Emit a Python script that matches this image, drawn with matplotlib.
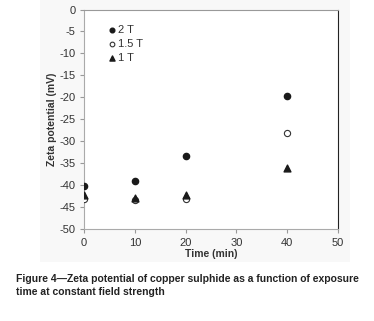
import matplotlib
matplotlib.use("Agg")
import matplotlib.pyplot as plt
from matplotlib.patches import Rectangle

plt.rcParams['font.family'] = ['Liberation Sans', 'DejaVu Sans']

time = [0, 10, 20, 40]
t2 = [-40.2, -38.9, -33.3, -19.7]
t15 = [-43.2, -43.3, -43.2, -28.2]
t1 = [-42.1, -42.9, -42.1, -36.1]
labels = ["2 T", "1.5 T", "1 T"]
xticks = [0, 10, 20, 30, 40, 50]
yticks = [0, -5, -10, -15, -20, -25, -30, -35, -40, -45, -50]

W, H = 374, 321
fig = plt.figure(figsize=(W/100, H/100), dpi=100)
fig.patches.append(Rectangle((40/W, 1-262/H), 310/W, 262/H, transform=fig.transFigure,
                             facecolor='#f8f8f8', edgecolor='none', zorder=-1))
ax = fig.add_axes([84/W, 1-229.3/H, (338-84)/W, (229.3-9.5)/H])
ax.set_facecolor('white')

ax.scatter(time, t2, marker='o', s=20, facecolor='#1a1a1a', edgecolor='#1a1a1a', label=labels[0], zorder=3)
ax.scatter(time, t15, marker='o', s=20, facecolor='white', edgecolor='#333333', linewidths=0.8, label=labels[1], zorder=3)
ax.scatter(time, t1, marker='^', s=24, facecolor='#1a1a1a', edgecolor='#1a1a1a', label=labels[2], zorder=3)

ax.set_xlim(0, 50)
ax.set_ylim(-50, 0)
ax.set_xticks(xticks)
ax.set_yticks(yticks)
ax.set_xticklabels([str(v) for v in xticks])
ax.set_yticklabels([str(v) for v in yticks])
ax.tick_params(direction='out', length=3, width=0.8, labelsize=8, colors='#999999',
               labelcolor='#333333', pad=3)
for s in ax.spines.values():
    s.set_color('#aaaaaa')
    s.set_linewidth(0.8)
ax.spines['top'].set_color('#999999')
ax.spines['right'].set_color('#222222')

ax.set_xlabel("Time (min)", fontsize=7.5, fontweight='bold', color='#333333', labelpad=1)
ax.set_ylabel("Zeta potential (mV)", fontsize=7.5, fontweight='bold', color='#333333', labelpad=2)

leg = ax.legend(loc='upper left', bbox_to_anchor=(0.093, 0.93), frameon=False, fontsize=8,
                handletextpad=0.1, labelspacing=0.35, handlelength=0.8, borderaxespad=0,
                borderpad=0, markerscale=0.75)
for t in leg.get_texts():
    t.set_color('#333333')

fig.text(16/W, 1-279/H, "Figure 4\u2014Zeta potential of copper sulphide as a function of exposure",
         fontsize=7.5, fontweight='bold', color='#222222', va='center', ha='left')
fig.text(16/W, 1-292/H, "time at constant field strength",
         fontsize=7.5, fontweight='bold', color='#222222', va='center', ha='left')

fig.savefig("out.png", dpi=100)
